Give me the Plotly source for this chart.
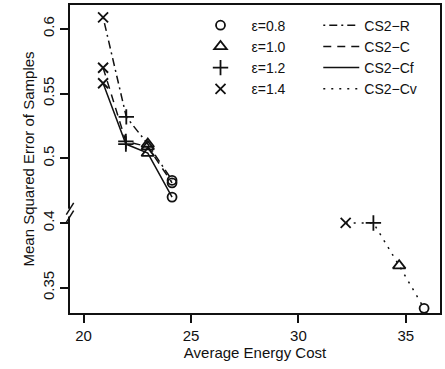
import plotly.graph_objects as go

# ---- data ----
eps_labels = ["ε=0.8", "ε=1.0", "ε=1.2", "ε=1.4"]
eps_symbols = ["circle-open", "triangle-up-open", "cross-thin-open", "x-thin-open"]
eps_sizes = [9, 11, 11, 10]

series_names = ["CS2−R", "CS2−C", "CS2−Cf", "CS2−Cv"]
series_dash = ["2px,4px,8px,4px", "8px,6px", "solid", "2px,6px"]

# order of points in each series: eps 1.4, 1.2, 1.0, 0.8
cost_R = [20.91, 21.99, 22.99, 24.12]
mse_R = [0.609, 0.532, 0.511, 0.483]
cost_C = [20.91, 21.97, 22.99, 24.12]
mse_C = [0.570, 0.513, 0.509, 0.481]
cost_Cf = [20.91, 21.97, 22.99, 24.12]
mse_Cf = [0.558, 0.511, 0.504, 0.470]
cost_Cv = [32.2, 33.49, 34.69, 35.85]
mse_Cv = [0.400, 0.400, 0.367, 0.334]
point_eps = [3, 2, 1, 0]  # index into eps lists

ytick_vals = [0.35, 0.4, 0.5, 0.55, 0.6]
xtick_vals = [20, 25, 30, 35]

BREAK_LO, BREAK_HI = 0.4, 0.5
GAP = 0.05  # removed part of the axis


def ymap(v):
    return v - GAP if v >= (BREAK_LO + BREAK_HI) / 2 else v


FONT = "Liberation Sans, Arial, Helvetica, sans-serif"
INK = "#111111"

fig = go.Figure()

all_series = [(cost_R, mse_R), (cost_C, mse_C), (cost_Cf, mse_Cf), (cost_Cv, mse_Cv)]
for (xs, ys), dash in zip(all_series, series_dash):
    fig.add_trace(go.Scatter(
        x=xs, y=[ymap(v) for v in ys], mode="lines",
        line=dict(color=INK, width=1.5, dash=dash),
        showlegend=False, hoverinfo="skip"))
    for x, y, e in zip(xs, ys, point_eps):
        fig.add_trace(go.Scatter(
            x=[x], y=[ymap(y)], mode="markers",
            marker=dict(symbol=eps_symbols[e], size=eps_sizes[e], color=INK,
                        line=dict(color=INK, width=1.8)),
            showlegend=False, hoverinfo="skip"))

# legend entries: markers (legend 1)
for lab, sym, sz in zip(eps_labels, eps_symbols, eps_sizes):
    fig.add_trace(go.Scatter(
        x=[None], y=[None], mode="markers", name=lab, legend="legend",
        marker=dict(symbol=sym, size=sz, color=INK, line=dict(color=INK, width=1.8))))
# legend entries: line styles (legend 2)
for nm, dash in zip(series_names, series_dash):
    fig.add_trace(go.Scatter(
        x=[None], y=[None], mode="lines", name=nm, legend="legend2",
        line=dict(color=INK, width=1.5, dash=dash)))

axis_common = dict(
    showline=True, linewidth=1.8, linecolor=INK, mirror=True,
    ticks="outside", ticklen=8, tickwidth=1.5, tickcolor=INK,
    showgrid=False, zeroline=False,
    tickfont=dict(family=FONT, size=15, color=INK),
    title_font=dict(family=FONT, size=15, color=INK),
)

LEG_FONT = dict(family=FONT, size=14, color=INK)

fig.update_layout(
    width=445, height=369,
    margin=dict(l=70, r=3, t=4, b=56),
    paper_bgcolor="white", plot_bgcolor="white",
    font=dict(family=FONT, size=15, color=INK),
    xaxis=dict(range=[19.37, 36.59], tickvals=xtick_vals,
               title=dict(text="Average Energy Cost", standoff=3), **axis_common),
    yaxis=dict(range=[0.3304, 0.5685], tickvals=[ymap(v) for v in ytick_vals],
               ticktext=[f"{v:g}" for v in ytick_vals], tickangle=-90,
               title=dict(text="Mean Squared Error of Samples", standoff=2), **axis_common),
    legend=dict(x=0.323, y=0.985, xanchor="left", yanchor="top",
                bgcolor="rgba(0,0,0,0)", borderwidth=0, tracegroupgap=0,
                font=LEG_FONT, itemwidth=52),
    legend2=dict(x=0.671, y=0.985, xanchor="left", yanchor="top",
                 bgcolor="rgba(0,0,0,0)", borderwidth=0, tracegroupgap=0,
                 font=LEG_FONT, itemwidth=36),
)

# axis break marks on the left axis
yb = 0.408
fig.add_shape(type="rect", xref="paper", yref="y", x0=-0.012, x1=0.012,
              y0=yb - 0.003, y1=yb + 0.003, fillcolor="white", line_width=0, layer="above")
for dy in (-0.003, 0.003):
    fig.add_shape(type="line", xref="paper", yref="y", x0=-0.01, x1=0.01,
                  y0=yb + dy - 0.0045, y1=yb + dy + 0.0045,
                  line=dict(color=INK, width=1.5), layer="above")

fig.write_html("out.html")
